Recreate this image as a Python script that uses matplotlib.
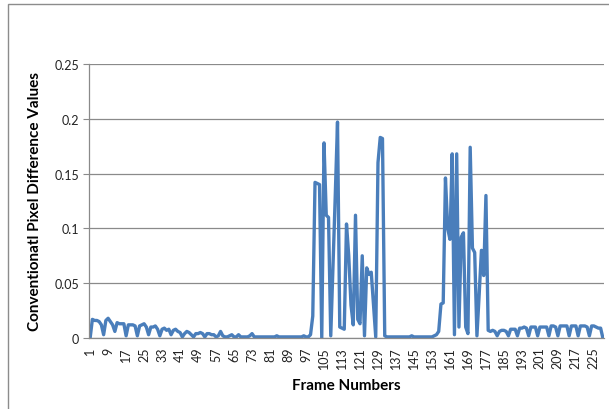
import numpy as np
import matplotlib.pyplot as plt
from matplotlib.patches import Rectangle

# pixel difference per frame (frames 1..229)
diff_1_60 = [0.000, 0.017, 0.016, 0.016, 0.015, 0.012, 0.003, 0.016, 0.018, 0.015,
             0.012, 0.006, 0.014, 0.013, 0.013, 0.013, 0.002, 0.012, 0.012, 0.012,
             0.011, 0.002, 0.011, 0.012, 0.013, 0.010, 0.003, 0.010, 0.010, 0.011,
             0.008, 0.002, 0.008, 0.009, 0.007, 0.008, 0.003, 0.007, 0.008, 0.006,
             0.005, 0.001, 0.004, 0.006, 0.005, 0.003, 0.001, 0.004, 0.004, 0.005,
             0.004, 0.001, 0.004, 0.004, 0.003, 0.003, 0.001, 0.002, 0.006, 0.002]
diff_61_100 = [0.001, 0.001, 0.002, 0.003, 0.001, 0.001, 0.003, 0.001, 0.001, 0.001,
               0.001, 0.002, 0.004, 0.001, 0.001, 0.001, 0.001, 0.001, 0.001, 0.001,
               0.001, 0.001, 0.001, 0.002, 0.001, 0.001, 0.001, 0.001, 0.001, 0.001,
               0.001, 0.001, 0.001, 0.001, 0.001, 0.002, 0.001, 0.001, 0.003, 0.020]
diff_101_132 = [0.142, 0.141, 0.140, 0.000, 0.178, 0.112, 0.110, 0.002, 0.065, 0.130,
                0.197, 0.010, 0.009, 0.008, 0.104, 0.075, 0.030, 0.012, 0.112, 0.017,
                0.013, 0.075, 0.002, 0.064, 0.058, 0.060, 0.030, 0.001, 0.160, 0.183,
                0.182, 0.002]
diff_133_156 = [0.001, 0.001, 0.001, 0.001, 0.001, 0.001, 0.001, 0.001, 0.001, 0.001,
                0.001, 0.002, 0.001, 0.001, 0.001, 0.001, 0.001, 0.001, 0.001, 0.001,
                0.001, 0.002, 0.003, 0.006]
diff_157_178 = [0.031, 0.032, 0.146, 0.100, 0.090, 0.168, 0.003, 0.168, 0.010, 0.092,
                0.096, 0.010, 0.004, 0.174, 0.082, 0.078, 0.002, 0.040, 0.080, 0.057,
                0.130, 0.007]
diff_179_229 = [0.006, 0.007, 0.006, 0.002, 0.006, 0.007, 0.007, 0.006, 0.002, 0.008,
                0.008, 0.008, 0.002, 0.009, 0.009, 0.010, 0.009, 0.002, 0.010, 0.010,
                0.010, 0.002, 0.010, 0.010, 0.010, 0.010, 0.002, 0.011, 0.011, 0.010,
                0.002, 0.011, 0.011, 0.011, 0.011, 0.002, 0.011, 0.011, 0.011, 0.002,
                0.011, 0.011, 0.011, 0.010, 0.002, 0.011, 0.011, 0.010, 0.009, 0.009,
                0.000]

values = diff_1_60 + diff_61_100 + diff_101_132 + diff_133_156 + diff_157_178 + diff_179_229
frames = np.arange(1, len(values) + 1)
tick_frames = list(range(1, 226, 8))

plt.rcParams['font.family'] = ['Lato', 'DejaVu Sans']

fig = plt.figure(figsize=(6.09, 4.10), dpi=100)
# chart area border
fig.patches.append(Rectangle((8 / 609, -0.1), 1.0, (410 - 5) / 410 + 0.1,
                             transform=fig.transFigure, fill=False,
                             edgecolor='#8c8c8c', lw=1.0))

ax = fig.add_axes([89 / 609, 71 / 410, 515 / 609, 274 / 410])
ax.plot(frames, values, color='#4a7ebb', lw=2.4, solid_joinstyle='round')

ax.set_xlim(0.5, len(values) + 0.5)
ax.set_ylim(0, 0.25)
ax.set_yticks([0, 0.05, 0.1, 0.15, 0.2, 0.25])
ax.set_yticklabels(['0', '0.05', '0.1', '0.15', '0.2', '0.25'])
ax.set_xticks(tick_frames)
ax.set_xticklabels([str(t) for t in tick_frames], rotation=90)

ax.grid(axis='y', color='#8a8a8a', lw=0.9)
ax.set_axisbelow(True)
for s in ['top', 'right']:
    ax.spines[s].set_visible(False)
for s in ['left', 'bottom']:
    ax.spines[s].set_color('#8a8a8a')
    ax.spines[s].set_linewidth(0.9)

ax.tick_params(axis='y', length=4, color='#8a8a8a', labelsize=9, labelcolor='#222222', pad=3)
ax.tick_params(axis='x', length=0, labelsize=9, labelcolor='#222222', pad=6)

ax.set_ylabel('Conventionatl Pixel Difference Values', fontsize=11, fontweight='bold', labelpad=9)
ax.set_xlabel('Frame Numbers', fontsize=11, fontweight='bold', labelpad=7)

fig.savefig('out.png', dpi=100)
